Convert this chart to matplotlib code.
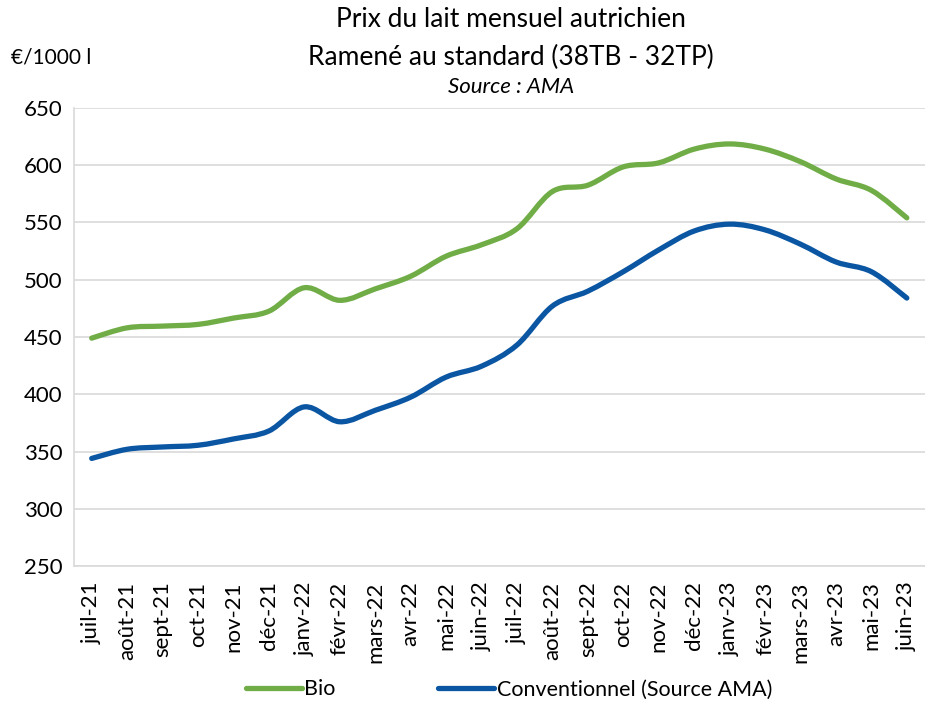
import numpy as np
import matplotlib
matplotlib.use("Agg")
import matplotlib.pyplot as plt
from matplotlib.path import Path
from matplotlib.patches import PathPatch
from matplotlib.lines import Line2D

mois = ["juil-21", "août-21", "sept-21", "oct-21", "nov-21", "déc-21",
        "janv-22", "févr-22", "mars-22", "avr-22", "mai-22", "juin-22",
        "juil-22", "août-22", "sept-22", "oct-22", "nov-22", "déc-22",
        "janv-23", "févr-23", "mars-23", "avr-23", "mai-23", "juin-23"]

bio = [449, 458, 459.5, 461, 466.5, 472.5, 493, 482, 492, 503, 520.5, 530.5,
       544.5, 577, 582.5, 598.5, 602, 614, 618.5, 614, 603, 588, 578, 554]

conventionnel = [344, 352, 354, 355.5, 361, 368, 389, 376, 386, 397.5, 415, 424.5,
                 443, 477, 490, 507, 526, 542.5, 548.5, 543.5, 531, 515.5, 507, 484]

VERT = "#70AD47"
BLEU = "#0B56A3"
POLICE = "Lato"


def courbe_lissee(ax, x, y, couleur):
    # lissage facon Excel : bezier cubique a partir des points voisins
    pts = np.column_stack([x, y]).astype(float)
    n = len(pts)
    sommets = [pts[0]]
    codes = [Path.MOVETO]
    for i in range(n - 1):
        p0 = pts[i - 1] if i > 0 else pts[i]
        p1 = pts[i]
        p2 = pts[i + 1]
        p3 = pts[i + 2] if i + 2 < n else pts[i + 1]
        c1 = p1 + (p2 - p0) / 6
        c2 = p2 - (p3 - p1) / 6
        sommets += [c1, c2, p2]
        codes += [Path.CURVE4] * 3
    patch = PathPatch(Path(sommets, codes), facecolor="none", edgecolor=couleur,
                      lw=3.8, capstyle="round", joinstyle="round", zorder=3)
    ax.add_patch(patch)


fig = plt.figure(figsize=(9.25, 7.05), dpi=100)
ax = fig.add_axes([0.08, 0.197, 0.9195, 0.65])

x = np.arange(len(mois))
courbe_lissee(ax, x, bio, VERT)
courbe_lissee(ax, x, conventionnel, BLEU)

ax.set_xlim(-0.5, len(mois) - 0.5)
ax.set_ylim(250, 650)
ax.set_yticks(np.arange(250, 651, 50))
ax.set_xticks(x)
ax.set_xticklabels(mois, rotation=90, fontsize=16, family=POLICE)
for lab in ax.get_yticklabels():
    lab.set_fontsize(16)
    lab.set_family(POLICE)
ax.tick_params(axis="both", length=0, pad=8)
ax.tick_params(axis="x", pad=11)

ax.grid(axis="y", color="#D9D9D9", lw=1.2)
ax.set_axisbelow(True)
for cote in ["top", "right"]:
    ax.spines[cote].set_visible(False)
ax.spines["left"].set_color("#D9D9D9")
ax.spines["left"].set_linewidth(1.2)
ax.spines["bottom"].set_color("#D9D9D9")
ax.spines["bottom"].set_linewidth(1.2)

fig.text(0.552, 0.972, "Prix du lait mensuel autrichien", ha="center", va="center",
         fontsize=19, family=POLICE)
fig.text(0.552, 0.919, "Ramené au standard (38TB - 32TP)", ha="center", va="center",
         fontsize=19, family=POLICE)
fig.text(0.552, 0.876, "Source : AMA", ha="center", va="center",
         fontsize=16, family=POLICE, style="italic")
fig.text(0.012, 0.919, "€/1000 l", ha="left", va="center", fontsize=15, family=POLICE)

poignees = [Line2D([], [], color=VERT, lw=3.8, solid_capstyle="round"),
            Line2D([], [], color=BLEU, lw=3.8, solid_capstyle="round")]
fig.legend(poignees, ["Bio", "Conventionnel (Source AMA)"], loc="center",
           bbox_to_anchor=(0.55, 0.022), ncol=2, frameon=False,
           prop={"family": POLICE, "size": 15.5}, handlelength=2.6,
           handletextpad=0.1, columnspacing=4.8)

fig.savefig("out.png", dpi=100)
